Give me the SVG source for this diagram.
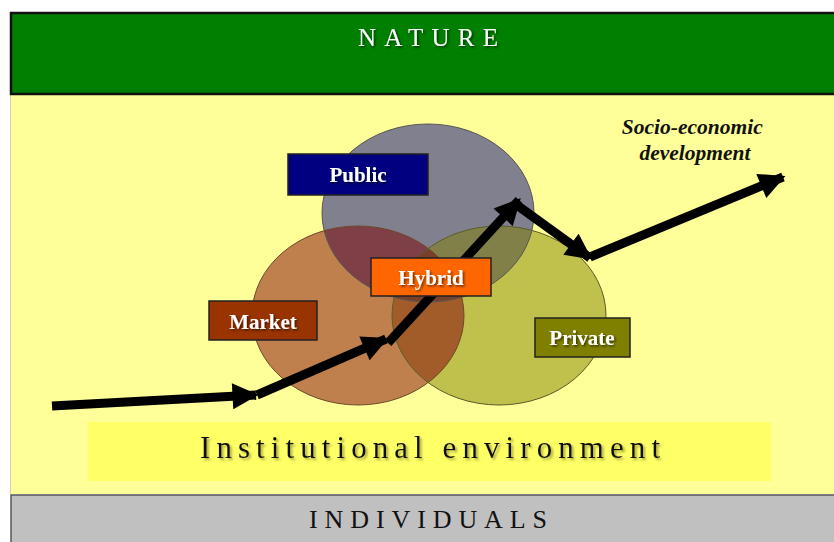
<svg xmlns="http://www.w3.org/2000/svg" width="834" height="542" viewBox="0 0 834 542">
<defs>
<style>
.band-text{font-family:"Liberation Serif","Times New Roman",serif;}
.lbl{font-family:"Liberation Serif","Times New Roman",serif;font-weight:bold;font-size:21px;fill:#fff;text-anchor:middle;}
.box{stroke:#222;stroke-width:1.5;}
.arrow{stroke:#000;stroke-width:9;fill:none;marker-end:url(#ah);}
</style>
<marker id="ah" viewBox="0 0 10 10" refX="9" refY="5" markerWidth="3" markerHeight="2.9" orient="auto" markerUnits="strokeWidth">
<path d="M0,0 L10,5 L0,10 z" fill="#000"/>
</marker>
<filter id="shW" x="-10%" y="-30%" width="120%" height="160%">
<feDropShadow dx="1.5" dy="1.5" stdDeviation="1" flood-color="#000" flood-opacity="0.6"/>
</filter>
<filter id="shB" x="-10%" y="-30%" width="120%" height="160%">
<feDropShadow dx="2" dy="2" stdDeviation="1.2" flood-color="#8a8a30" flood-opacity="0.7"/>
</filter>
<ellipse id="ePub" cx="428" cy="213" rx="106" ry="89"/>
<ellipse id="eMkt" cx="358" cy="315.5" rx="106" ry="89.5"/>
<ellipse id="ePrv" cx="499" cy="315.5" rx="107" ry="89.5"/>
<clipPath id="cPub"><use href="#ePub"/></clipPath>
<clipPath id="cMkt"><use href="#eMkt"/></clipPath>
<clipPath id="cPrv"><use href="#ePrv"/></clipPath>
</defs>

<g id="background">
<rect x="10" y="94" width="824" height="400" fill="#ffff99"/>
<line x1="10.5" y1="94" x2="10.5" y2="494" stroke="#e8c8b0" stroke-width="1"/>
</g>

<g id="nature">
<rect x="11" y="13" width="825" height="81" fill="#007f00" stroke="#111" stroke-width="2.5"/>
<text class="band-text" x="428" y="46" font-size="25" fill="#fff" text-anchor="middle" textLength="140" lengthAdjust="spacing" filter="url(#shW)">NATURE</text>
</g>

<g id="individuals">
<rect x="11" y="495" width="825" height="50" fill="#c0c0c0" stroke="#555" stroke-width="1.5"/>
<text class="band-text" x="428" y="528" font-size="26" fill="#111" text-anchor="middle" textLength="238" lengthAdjust="spacing">INDIVIDUALS</text>
</g>

<g id="institutional-environment">
<rect x="88" y="422" width="683" height="59" fill="#ffff66"/>
<text class="band-text" x="430" y="458" font-size="31" fill="#111" text-anchor="middle" textLength="460" lengthAdjust="spacing" filter="url(#shB)">Institutional environment</text>
</g>

<g id="circles">
<use href="#ePub" fill="#80808f"/>
<use href="#eMkt" fill="#c0804d"/>
<use href="#ePrv" fill="#c0c04d"/>
<g clip-path="url(#cPub)"><use href="#eMkt" fill="#7f3f47"/><use href="#ePrv" fill="#808048"/></g>
<g clip-path="url(#cMkt)"><use href="#ePrv" fill="#a15c2a"/></g>
<g clip-path="url(#cMkt)"><g clip-path="url(#cPub)"><use href="#ePrv" fill="#7a3f2a"/></g></g>
<use href="#ePub" fill="none" stroke="#555" stroke-width="1"/>
<use href="#eMkt" fill="none" stroke="#6a4a2a" stroke-width="1"/>
<use href="#ePrv" fill="none" stroke="#5a5a2a" stroke-width="1"/>
</g>

<g id="connectors">
<line class="arrow" x1="52" y1="406" x2="256" y2="395"/>
<line class="arrow" x1="257" y1="395" x2="386" y2="339"/>
<line class="arrow" x1="388" y1="343" x2="519" y2="200"/>
<line class="arrow" x1="514" y1="203" x2="590" y2="258"/>
<line class="arrow" x1="590" y1="257" x2="783" y2="177"/>
</g>

<g id="public">
<rect class="box" x="288" y="154" width="140" height="41" fill="#000080"/>
<text class="lbl" x="358" y="182" filter="url(#shW)">Public</text>
</g>
<g id="hybrid">
<rect class="box" x="371" y="258" width="120" height="38" fill="#ff6600"/>
<text class="lbl" x="431" y="285" filter="url(#shW)">Hybrid</text>
</g>
<g id="market">
<rect class="box" x="209" y="301" width="108" height="39" fill="#993300"/>
<text class="lbl" x="263" y="329" filter="url(#shW)">Market</text>
</g>
<g id="private">
<rect class="box" x="535" y="318" width="95" height="39" fill="#808000"/>
<text class="lbl" x="582" y="345" filter="url(#shW)">Private</text>
</g>

<g id="socio-economic">
<text font-family="Liberation Serif, Times New Roman, serif" font-style="italic" font-weight="bold" font-size="21.5" fill="#111" text-anchor="middle">
<tspan x="695" y="134">Socio-economic</tspan>
<tspan x="695" y="160">development</tspan>
</text>
</g>
</svg>
